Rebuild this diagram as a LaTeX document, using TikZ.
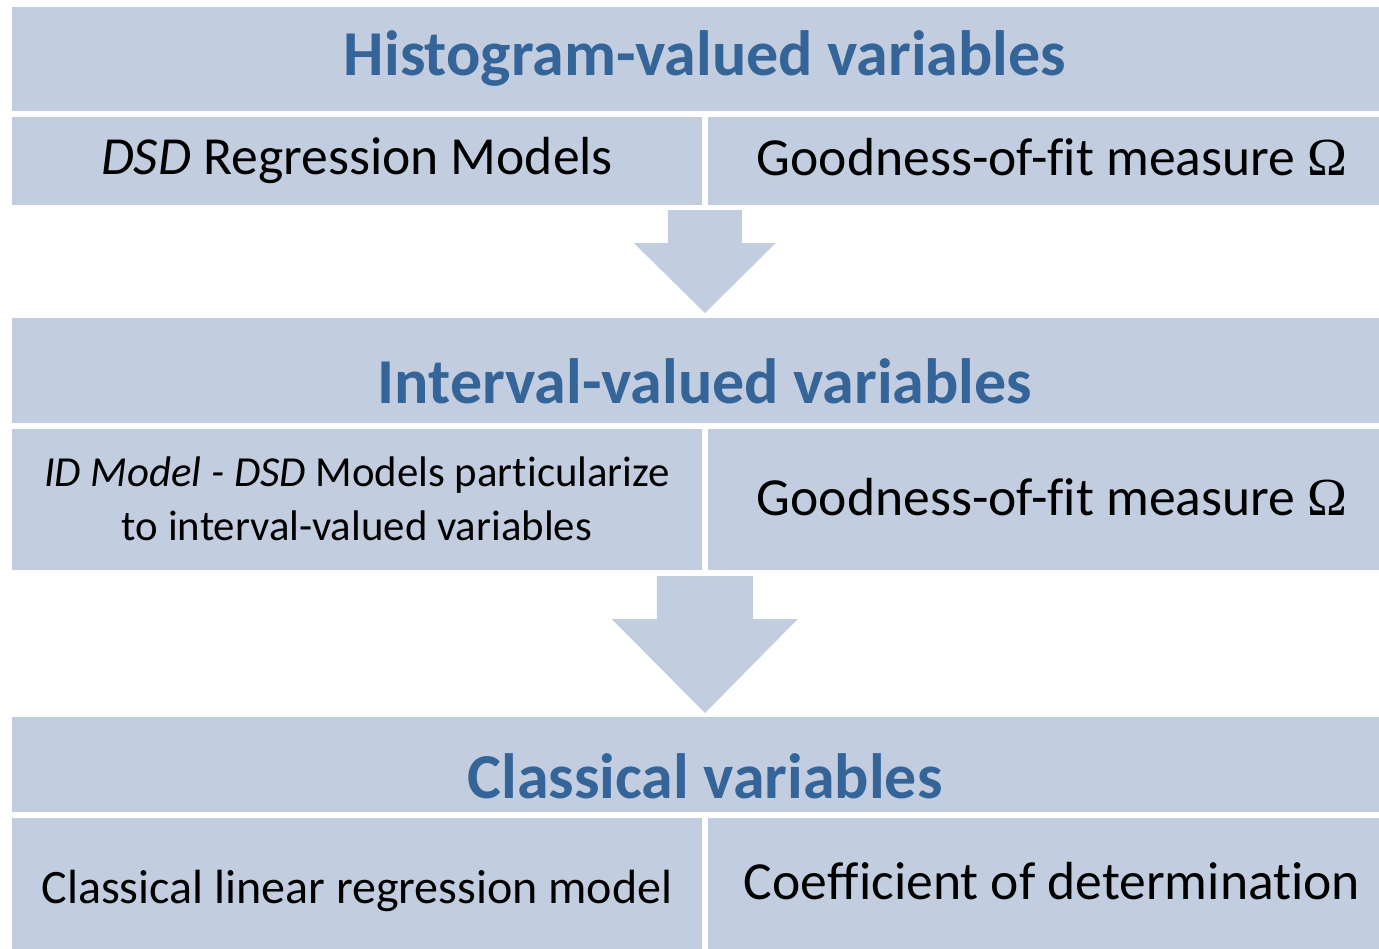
\documentclass[tikz,border=0pt]{standalone}
\usepackage{fontspec}
\setmainfont{Carlito}[Ligatures=NoCommon]
\newfontfamily\omegafont{Liberation Serif}
\usetikzlibrary{calc}
\definecolor{panelblue}{RGB}{194,205,224}
\definecolor{headblue}{RGB}{53,101,152}
\begin{document}
\begin{tikzpicture}[x=0.5pt,y=-0.5pt,
  panel/.style={fill=panelblue,draw=none,inner sep=0pt,outer sep=0pt},
  headbox/.style={panel,minimum width=692.5pt},
  cellbox/.style={panel,minimum width=345pt},
  headtext/.style={anchor=base,inner sep=0pt,text=headblue,
    font=\fontsize{32}{38}\selectfont\bfseries},
  celltext/.style={anchor=base,inner sep=0pt,text=black,
    font=\fontsize{26.8}{32}\selectfont},
  smalltext/.style={anchor=base,inner sep=0pt,text=black,
    font=\fontsize{21.4}{27}\selectfont}]
\useasboundingbox (0,0) rectangle (1379,948);
\clip (0,0) rectangle (1379,948);

% histogram level
\node[headbox,minimum height=52pt] (h1) at (704.5,59) {};
\node[cellbox,minimum height=44pt] (r1l) at (357,161) {};
\node[cellbox,minimum height=44pt] (r1r) at (1052.5,161) {};
% interval level
\node[headbox,minimum height=52.5pt] (h2) at (704.5,370.5) {};
\node[cellbox,minimum height=70.5pt] (r2l) at (357,499.5) {};
\node[cellbox,minimum height=70.5pt] (r2r) at (1052.5,499.5) {};
% classical level
\node[headbox,minimum height=47.5pt] (h3) at (704.5,764.5) {};
\node[cellbox,minimum height=71pt] (r3l) at (357,889) {};
\node[cellbox,minimum height=71pt] (r3r) at (1052.5,889) {};

% texts
\node[headtext] (t1) at (705,75) {Histogram-valued variables};
\node[celltext] (t1l) at (357,174) {\textit{DSD} Regression Models};
\node[celltext] (t1r) at (1052,175) {Goodness-of-fit measure {\omegafont Ω}};
\node[headtext] (t2) at (705,403) {Interval-valued variables};
\node[smalltext] (t2la) at (357,486) {\textit{ID Model - DSD} Models particularize};
\node[smalltext] (t2lb) at (357,540) {to interval-valued variables};
\node[celltext] (t2r) at (1052,515) {Goodness-of-fit measure {\omegafont Ω}};
\node[headtext] (t3) at (705,798) {Classical variables};
\node[celltext,font=\fontsize{24}{30}\selectfont] (t3l) at (357,903) {Classical linear regression model};
\node[celltext] (t3r) at (1052,899) {Coefficient of determination};

% block arrows between levels
\coordinate (a1s) at ($(r1l.south east)!0.5!(r1r.south west)+(0,5)$);
\coordinate (a1t) at ($(h2.north)+(0.5,-5)$);
\fill[panelblue] ($(a1s)+(-37,0)$) -- ($(a1s)+(37,0)$) -- ($(a1s)+(37,33)$)
  -- ($(a1s)+(71,33)$) -- (a1t) -- ($(a1s)+(-71,33)$) -- ($(a1s)+(-37,33)$) -- cycle;
\coordinate (a2s) at ($(r2l.south east)!0.5!(r2r.south west)+(0,6)$);
\coordinate (a2t) at ($(h3.north)+(0.5,-4)$);
\fill[panelblue] ($(a2s)+(-48,0)$) -- ($(a2s)+(48,0)$) -- ($(a2s)+(48,43)$)
  -- ($(a2s)+(93,43)$) -- (a2t) -- ($(a2s)+(-93,43)$) -- ($(a2s)+(-48,43)$) -- cycle;
\end{tikzpicture}
\end{document}
